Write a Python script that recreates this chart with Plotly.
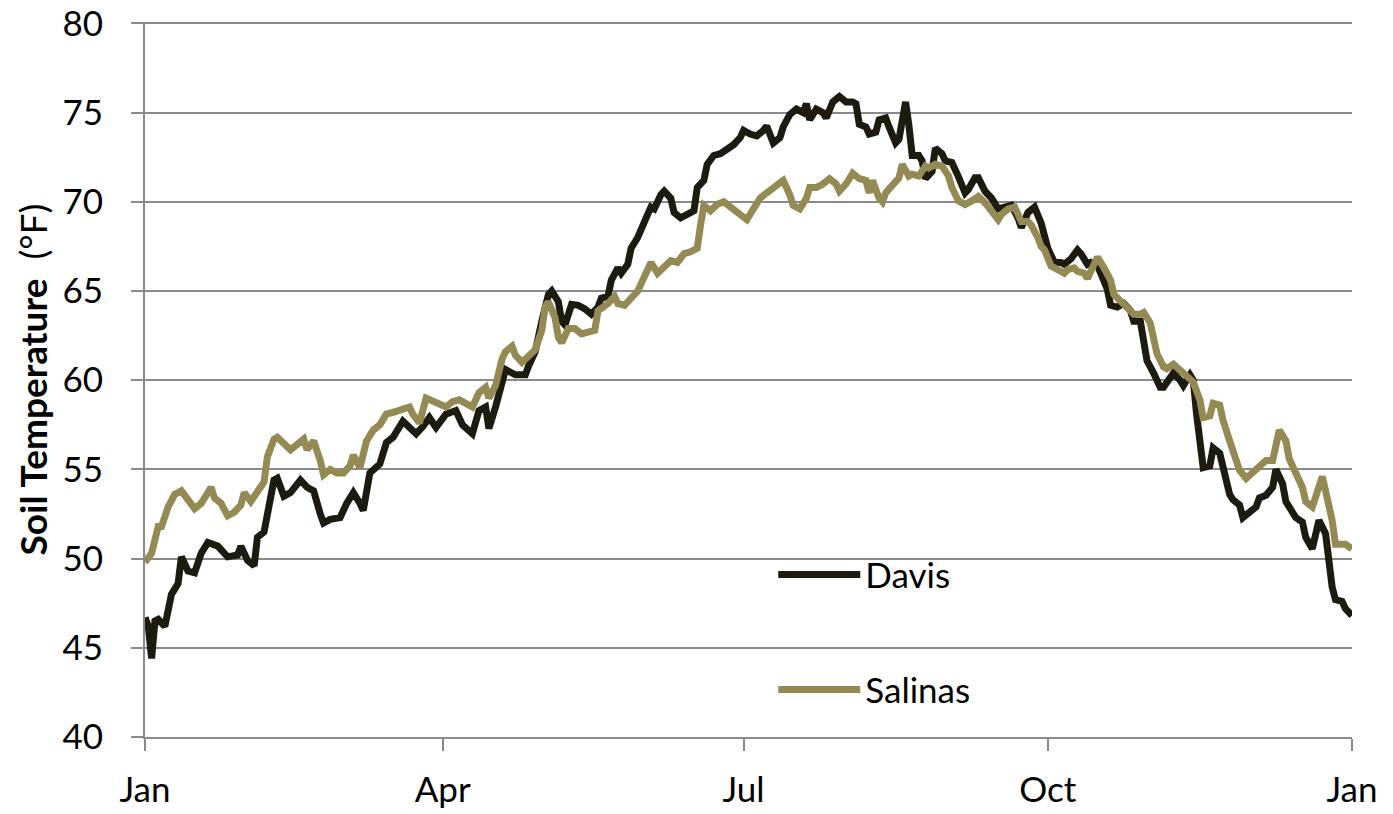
import pandas as pd
import plotly.graph_objects as go

# ---- data (day offset from Jan 1, soil temperature °F) ----
davis_days = [0, 1, 2, 3, 4, 6, 8, 10, 11, 13, 15, 17, 19, 22, 25, 28, 29, 31, 33, 34, 36, 37, 39, 40, 42, 44, 47, 49, 51, 53, 54, 56, 59, 61, 63, 65, 66, 68, 71, 73, 75, 78, 80, 82, 84, 86, 88, 91, 94, 96, 99, 101, 103, 104, 106, 108, 109, 112, 115, 116, 118, 120, 122, 123, 125, 126, 127, 129, 131, 133, 135, 137, 138, 140, 141, 143, 144, 146, 147, 149, 150, 152, 153, 154, 156, 157, 159, 160, 162, 164, 166, 167, 169, 170, 172, 174, 176, 178, 180, 181, 183, 185, 187, 188, 190, 192, 193, 195, 197, 199, 200, 201, 203, 205, 206, 208, 210, 212, 214, 215, 216, 218, 219, 221, 222, 224, 225, 227, 228, 229, 230, 231, 232, 234, 235, 236, 238, 239, 241, 242, 244, 246, 248, 249, 251, 252, 254, 256, 258, 260, 262, 264, 265, 267, 269, 271, 273, 275, 277, 278, 280, 282, 283, 285, 286, 288, 289, 291, 292, 294, 296, 298, 299, 301, 302, 303, 305, 307, 308, 310, 311, 313, 314, 316, 317, 318, 319, 320, 322, 323, 325, 326, 328, 329, 331, 332, 334, 336, 337, 339, 341, 342, 344, 345, 347, 348, 350, 351, 353, 354, 355, 357, 358, 359, 360, 362, 363, 365]
davis_temp = [46.7, 46.2, 44.4, 46.5, 46.6, 46.2, 48.0, 48.6, 50.1, 49.3, 49.2, 50.3, 50.9, 50.7, 50.1, 50.2, 50.7, 49.9, 49.6, 51.2, 51.5, 52.5, 54.4, 54.5, 53.5, 53.7, 54.4, 54.0, 53.8, 52.5, 52.0, 52.2, 52.3, 53.1, 53.7, 53.1, 52.7, 54.8, 55.3, 56.5, 56.8, 57.7, 57.4, 57.0, 57.4, 57.9, 57.35, 58.1, 58.3, 57.5, 57.0, 58.3, 58.5, 57.3, 58.5, 60.1, 60.6, 60.3, 60.3, 60.8, 61.6, 63.3, 64.8, 65.0, 64.4, 63.3, 63.1, 64.25, 64.2, 64.0, 63.7, 64.1, 64.6, 64.7, 65.6, 66.3, 66.0, 66.5, 67.4, 68.0, 68.5, 69.3, 69.7, 69.6, 70.4, 70.6, 70.2, 69.4, 69.1, 69.3, 69.5, 70.8, 71.2, 72.1, 72.6, 72.7, 72.9, 73.2, 73.6, 74.0, 73.8, 73.7, 74.0, 74.25, 73.3, 73.6, 74.2, 74.9, 75.2, 75.0, 75.5, 74.6, 75.2, 75.0, 74.7, 75.6, 75.9, 75.6, 75.6, 75.5, 74.35, 74.2, 73.8, 73.9, 74.6, 74.7, 74.2, 73.3, 73.5, 74.7, 75.6, 74.3, 72.6, 72.6, 72.3, 71.3, 71.7, 73.0, 72.7, 72.3, 72.2, 71.4, 70.5, 70.7, 71.35, 71.35, 70.6, 70.2, 69.6, 69.7, 69.8, 69.1, 68.55, 69.4, 69.7, 68.8, 67.4, 66.6, 66.6, 66.5, 66.8, 67.3, 67.1, 66.5, 66.6, 66.45, 65.9, 65.1, 64.2, 64.1, 64.3, 63.9, 63.3, 63.3, 62.2, 61.1, 60.4, 59.6, 59.6, 60.1, 60.4, 60.0, 59.7, 60.3, 60.0, 58.1, 56.6, 55.1, 55.2, 56.2, 55.9, 55.0, 53.6, 53.3, 53.0, 52.3, 52.6, 52.9, 53.4, 53.55, 54.0, 55.0, 54.2, 53.2, 52.6, 52.3, 52.05, 51.2, 50.55, 51.6, 52.15, 51.4, 49.9, 48.4, 47.7, 47.6, 47.2, 46.8]

salinas_days = [0, 2, 4, 5, 7, 9, 11, 13, 15, 17, 19, 20, 21, 23, 25, 27, 29, 30, 32, 34, 36, 37, 39, 40, 42, 44, 46, 48, 49, 51, 53, 54, 56, 58, 60, 62, 63, 65, 67, 69, 71, 73, 75, 78, 80, 81, 83, 85, 87, 89, 91, 93, 95, 97, 99, 101, 103, 104, 106, 108, 109, 111, 112, 114, 116, 118, 120, 121, 122, 124, 125, 126, 128, 130, 132, 134, 136, 137, 139, 140, 142, 143, 145, 147, 149, 150, 152, 153, 155, 157, 159, 161, 163, 165, 167, 168, 169, 171, 173, 175, 177, 179, 182, 184, 186, 188, 190, 192, 193, 195, 196, 198, 200, 201, 203, 205, 207, 209, 210, 212, 214, 216, 218, 219, 220, 222, 223, 224, 226, 228, 229, 231, 232, 234, 236, 237, 239, 241, 243, 244, 246, 248, 250, 252, 254, 256, 258, 259, 261, 263, 265, 267, 268, 270, 271, 272, 274, 276, 278, 279, 281, 282, 284, 285, 287, 288, 290, 292, 293, 295, 297, 299, 301, 302, 304, 305, 306, 308, 309, 311, 312, 314, 316, 317, 319, 320, 322, 323, 325, 326, 328, 330, 331, 333, 335, 337, 339, 341, 342, 343, 345, 346, 348, 350, 351, 353, 354, 356, 357, 359, 360, 362, 363, 365]
salinas_temp = [49.8, 50.3, 51.8, 51.8, 52.9, 53.6, 53.8, 53.3, 52.8, 53.1, 53.8, 54.0, 53.4, 53.1, 52.4, 52.6, 53.0, 53.7, 53.2, 53.8, 54.3, 55.7, 56.7, 56.8, 56.4, 56.1, 56.4, 56.7, 56.1, 56.6, 55.5, 54.7, 55.0, 54.8, 54.8, 55.2, 55.8, 55.1, 56.6, 57.2, 57.5, 58.1, 58.2, 58.4, 58.5, 58.1, 57.6, 59.0, 58.8, 58.6, 58.5, 58.8, 58.9, 58.7, 58.5, 59.3, 59.6, 59.0, 59.7, 61.2, 61.6, 61.9, 61.4, 61.0, 61.4, 61.7, 62.8, 64.1, 64.4, 63.5, 62.4, 62.1, 62.9, 62.9, 62.6, 62.7, 62.8, 63.9, 64.1, 64.3, 64.7, 64.3, 64.2, 64.6, 65.0, 65.4, 66.3, 66.6, 66.0, 66.4, 66.7, 66.6, 67.1, 67.2, 67.4, 68.7, 69.8, 69.5, 69.85, 70.0, 69.7, 69.4, 69.0, 69.6, 70.2, 70.5, 70.8, 71.0, 71.2, 70.4, 69.8, 69.6, 70.2, 70.8, 70.8, 71.0, 71.3, 71.0, 70.6, 71.0, 71.6, 71.3, 71.2, 70.5, 71.2, 70.2, 70.0, 70.5, 71.0, 71.35, 72.1, 71.45, 71.55, 71.45, 72.0, 71.9, 72.1, 72.0, 71.45, 70.8, 70.05, 69.85, 70.05, 70.3, 69.95, 69.5, 69.0, 69.3, 69.6, 69.7, 68.9, 68.9, 68.7, 68.0, 67.5, 67.3, 66.4, 66.2, 66.0, 66.2, 66.3, 66.1, 66.0, 65.7, 66.4, 66.9, 66.3, 65.6, 64.8, 64.4, 64.1, 63.7, 63.7, 63.8, 63.2, 62.5, 61.5, 60.75, 60.65, 60.9, 60.75, 60.4, 60.1, 59.9, 58.9, 57.9, 58.0, 58.7, 58.6, 57.75, 56.6, 55.5, 54.95, 54.5, 54.85, 55.1, 55.5, 55.5, 56.4, 57.2, 56.6, 55.6, 54.8, 54.0, 53.2, 52.9, 53.45, 54.6, 53.8, 52.15, 50.8, 50.75, 50.8, 50.55]

series_names = ["Davis", "Salinas"]
series_colors = ["#1D1B10", "#948A54"]
y_title_bold = "Soil Temperature"
y_title_unit = "(°F)"
year_start = pd.Timestamp("2011-01-01")

def to_dates(days):
    return [year_start + pd.Timedelta(days=d) for d in days]

FONT = "Lato, Open Sans, sans-serif"
GRID = "#8a8a8a"
LINE_W = 7
TICK_SIZE = 35

fig = go.Figure()
fig.add_trace(go.Scatter(
    x=to_dates(davis_days), y=davis_temp, mode="lines", name=series_names[0],
    line=dict(color=series_colors[0], width=LINE_W), legend="legend"))
fig.add_trace(go.Scatter(
    x=to_dates(salinas_days), y=salinas_temp, mode="lines", name=series_names[1],
    line=dict(color=series_colors[1], width=LINE_W), legend="legend2"))

legend_common = dict(
    xanchor="left", yanchor="middle", bgcolor="rgba(0,0,0,0)",
    font=dict(family=FONT, size=TICK_SIZE, color="#000000"), itemwidth=82,
    borderwidth=0, visible=True,
)

fig.update_layout(
    template="none",
    width=1393, height=814,
    margin=dict(l=145, r=41, t=22, b=77, autoexpand=False),
    paper_bgcolor="white", plot_bgcolor="white",
    font=dict(family=FONT, color="#000000"),
    showlegend=True,
    legend=dict(x=0.5205, y=0.227, **legend_common),
    legend2=dict(x=0.5205, y=0.066, **legend_common),
    xaxis=dict(
        type="date", automargin=False,
        range=[year_start, year_start + pd.Timedelta(days=365)],
        tick0=year_start, dtick="M3", tickformat="%b",
        showgrid=False, zeroline=False,
        showline=True, linecolor=GRID, linewidth=2,
        ticks="outside", ticklen=12, tickwidth=2, tickcolor=GRID,
        tickfont=dict(family=FONT, size=TICK_SIZE, color="#000000"),
        ticklabelstandoff=9, ticklabeloverflow="allow",
    ),
    yaxis=dict(
        range=[40, 80.08], dtick=5, tick0=40, automargin=False,
        showgrid=True, gridcolor=GRID, gridwidth=2,
        zeroline=False,
        showline=True, linecolor=GRID, linewidth=2,
        ticks="outside", ticklen=12, tickwidth=2, tickcolor=GRID,
        tickfont=dict(family=FONT, size=TICK_SIZE, color="#000000"),
        ticklabelstandoff=21, ticklabeloverflow="allow",
    ),
    annotations=[dict(
        text=f"<b>{y_title_bold}</b>\u00a0\u00a0{y_title_unit}",
        xref="paper", yref="paper", x=0, y=0.5,
        xanchor="center", yanchor="middle", xshift=-113,
        textangle=-90, showarrow=False,
        font=dict(family=FONT, size=37, color="#000000"),
    )],
)

fig.write_html("out.html",
               config={"displayModeBar": False},
               post_script="document.body.style.margin='0px';document.body.style.overflow='hidden';")
